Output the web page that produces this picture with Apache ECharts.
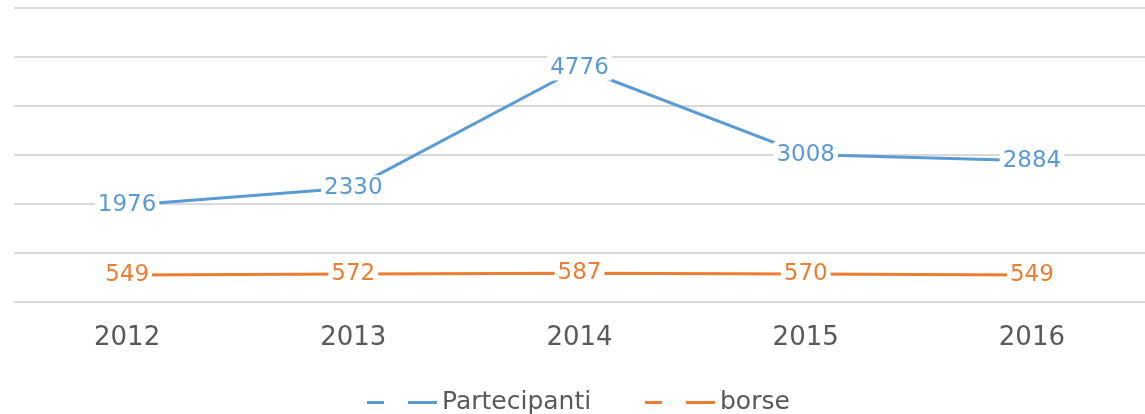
<!DOCTYPE html>
<html>
<head>
<meta charset="utf-8">
<title>Partecipanti e borse</title>
<script src="https://cdn.jsdelivr.net/npm/echarts@6/dist/echarts.min.js"></script>
<style>
  html, body { margin: 0; padding: 0; background: #fff; }
  #chart { width: 1145px; height: 414px; }
</style>
</head>
<body>
<div id="chart"></div>
<script>
  var anni = ['2012', '2013', '2014', '2015', '2016'];
  var partecipanti = [1976, 2330, 4776, 3008, 2884];
  var borse = [549, 572, 587, 570, 549];

  var font = '"DejaVu Sans", sans-serif';
  var dash = 'path://M0,0H17V3H0Z M41,0H70V3H41Z';

  function lbl(color) {
    return {
      show: true,
      position: 'inside',
      color: color,
      fontSize: 23,
      fontFamily: font,
      backgroundColor: '#fff',
      padding: [1, 3]
    };
  }

  // one legend per series so each item sits where it does in the original
  function leg(name, x) {
    return {
      top: 385,
      left: x,
      itemWidth: 70,
      itemHeight: 3,
      textStyle: { fontSize: 25, color: '#595959', fontFamily: font },
      data: [{ name: name, icon: dash }]
    };
  }

  var chart = echarts.init(document.getElementById('chart'));
  chart.setOption({
    animation: false,
    grid: { left: 14, right: -10, top: 8, bottom: 112 },
    legend: [leg('Partecipanti', 362), leg('borse', 640)],
    xAxis: {
      type: 'category',
      data: anni,
      axisLine: { show: false },
      axisTick: { show: false },
      axisLabel: { fontSize: 26, color: '#595959', fontFamily: font, margin: 23 }
    },
    yAxis: {
      type: 'value',
      min: 0,
      max: 6000,
      interval: 1000,
      axisLabel: { show: false },
      splitLine: { lineStyle: { color: '#d9d9d9', width: 2 } }
    },
    series: [
      {
        name: 'Partecipanti',
        type: 'line',
        data: partecipanti,
        symbol: 'circle',
        symbolSize: 1,
        showSymbol: true,
        color: '#5b9bd5',
        lineStyle: { width: 3, color: '#5b9bd5' },
        label: lbl('#5b9bd5'),
        z: 3
      },
      {
        name: 'borse',
        type: 'line',
        data: borse,
        symbol: 'circle',
        symbolSize: 1,
        showSymbol: true,
        color: '#ed7d31',
        lineStyle: { width: 3, color: '#ed7d31' },
        label: lbl('#ed7d31'),
        z: 3
      }
    ]
  });
</script>
</body>
</html>
